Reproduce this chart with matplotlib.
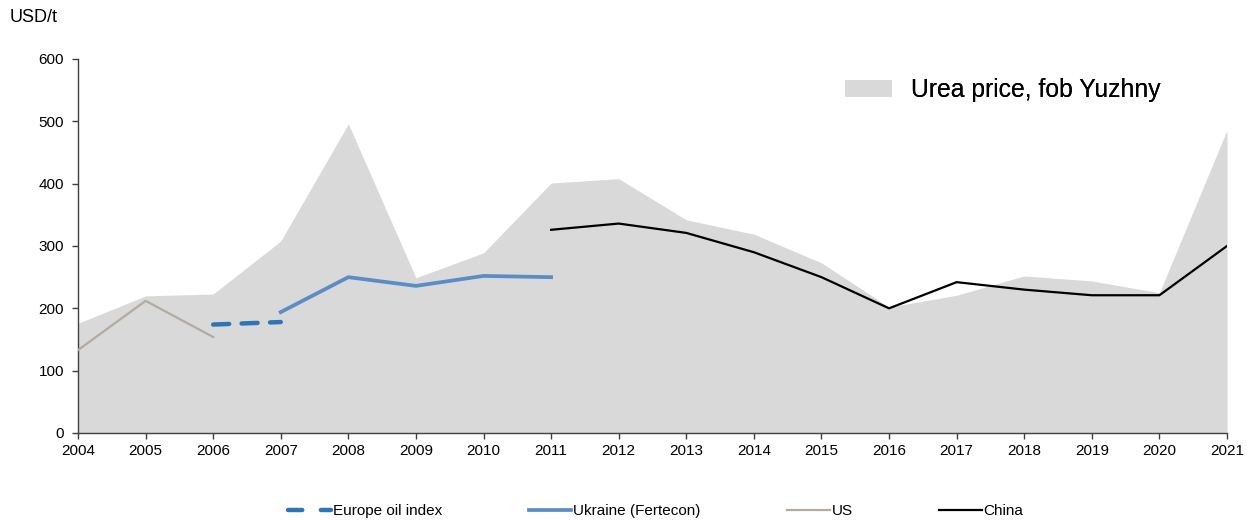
import matplotlib
matplotlib.use("Agg")
import matplotlib.pyplot as plt
from matplotlib.patches import Patch
from matplotlib.lines import Line2D

plt.rcParams['font.family'] = ['Liberation Sans', 'DejaVu Sans']

years = list(range(2004, 2022))
urea_fob_yuzhny = [176, 220, 223, 308, 496, 249, 289, 401, 408, 342, 319, 273, 202, 221, 252, 244, 225, 486]

us_years = [2004, 2005, 2006]
us_values = [133, 212, 154]

europe_years = [2006, 2007]
europe_values = [174, 178]

ukraine_years = [2007, 2008, 2009, 2010, 2011]
ukraine_values = [194, 250, 236, 252, 250]

china_years = list(range(2011, 2022))
china_values = [326, 336, 321, 290, 250, 200, 242, 230, 221, 221, 300]

area_color = '#d9d9d9'
europe_color = '#2e75b6'
ukraine_color = '#5b8dc4'
us_color = '#b3aaa2'
china_color = '#000000'
axis_color = '#404040'

fig = plt.figure(figsize=(12.47, 5.21), dpi=100)
ax = fig.add_axes([78 / 1247, 88 / 521, (1227 - 78) / 1247, (433 - 59) / 521])

ax.fill_between(years, 0, urea_fob_yuzhny, color=area_color, linewidth=0, zorder=1)
ax.plot(us_years, us_values, color=us_color, lw=1.6, zorder=3)
ax.plot(europe_years, europe_values, color=europe_color, lw=3.2,
        dashes=(3.6, 2.8), solid_capstyle='round', dash_capstyle='round', zorder=3)
ax.plot(ukraine_years, ukraine_values, color=ukraine_color, lw=2.7, zorder=3)
ax.plot(china_years, china_values, color=china_color, lw=1.6, zorder=3)

ax.set_xlim(2004, 2021)
ax.set_ylim(0, 600)
ax.set_xticks(years)
ax.set_xticklabels([str(y) for y in years])
ax.set_yticks(range(0, 601, 100))

for side in ('top', 'right'):
    ax.spines[side].set_visible(False)
for side in ('left', 'bottom'):
    ax.spines[side].set_color(axis_color)
    ax.spines[side].set_linewidth(1.0)
ax.tick_params(axis='both', direction='out', length=4, width=1.0, color=axis_color,
               labelsize=11, labelcolor='black')
ax.tick_params(axis='x', pad=4)
ax.tick_params(axis='y', pad=6)

fig.text(10 / 1247, 1 - 18 / 521, 'USD/t', fontsize=13, ha='left', va='center')

area_leg = ax.legend(handles=[Patch(facecolor=area_color, edgecolor='none')],
                     labels=['Urea price, fob Yuzhny'],
                     loc='upper left', bbox_to_anchor=((845 - 78) / 1149, 1 - (78 - 59) / 374),
                     frameon=False, fontsize=17.8, handlelength=1.9, handleheight=0.72,
                     handletextpad=0.75, borderaxespad=0, borderpad=0)
ax.add_artist(area_leg)

line_handles = [
    Line2D([], [], color=europe_color, lw=3.2, dashes=(3.2, 4.2), dash_capstyle='round'),
    Line2D([], [], color=ukraine_color, lw=2.7),
    Line2D([], [], color=us_color, lw=1.6),
    Line2D([], [], color=china_color, lw=1.6),
]
line_labels = ['Europe oil index', 'Ukraine (Fertecon)', 'US', 'China']
fig.legend(handles=line_handles, labels=line_labels, loc='center',
           bbox_to_anchor=(656 / 1247, 1 - 511 / 521), ncol=4, frameon=False,
           fontsize=11, handlelength=2.8, handletextpad=0.12, columnspacing=5.65,
           borderpad=0, borderaxespad=0)

fig.savefig('out.png', dpi=100)
